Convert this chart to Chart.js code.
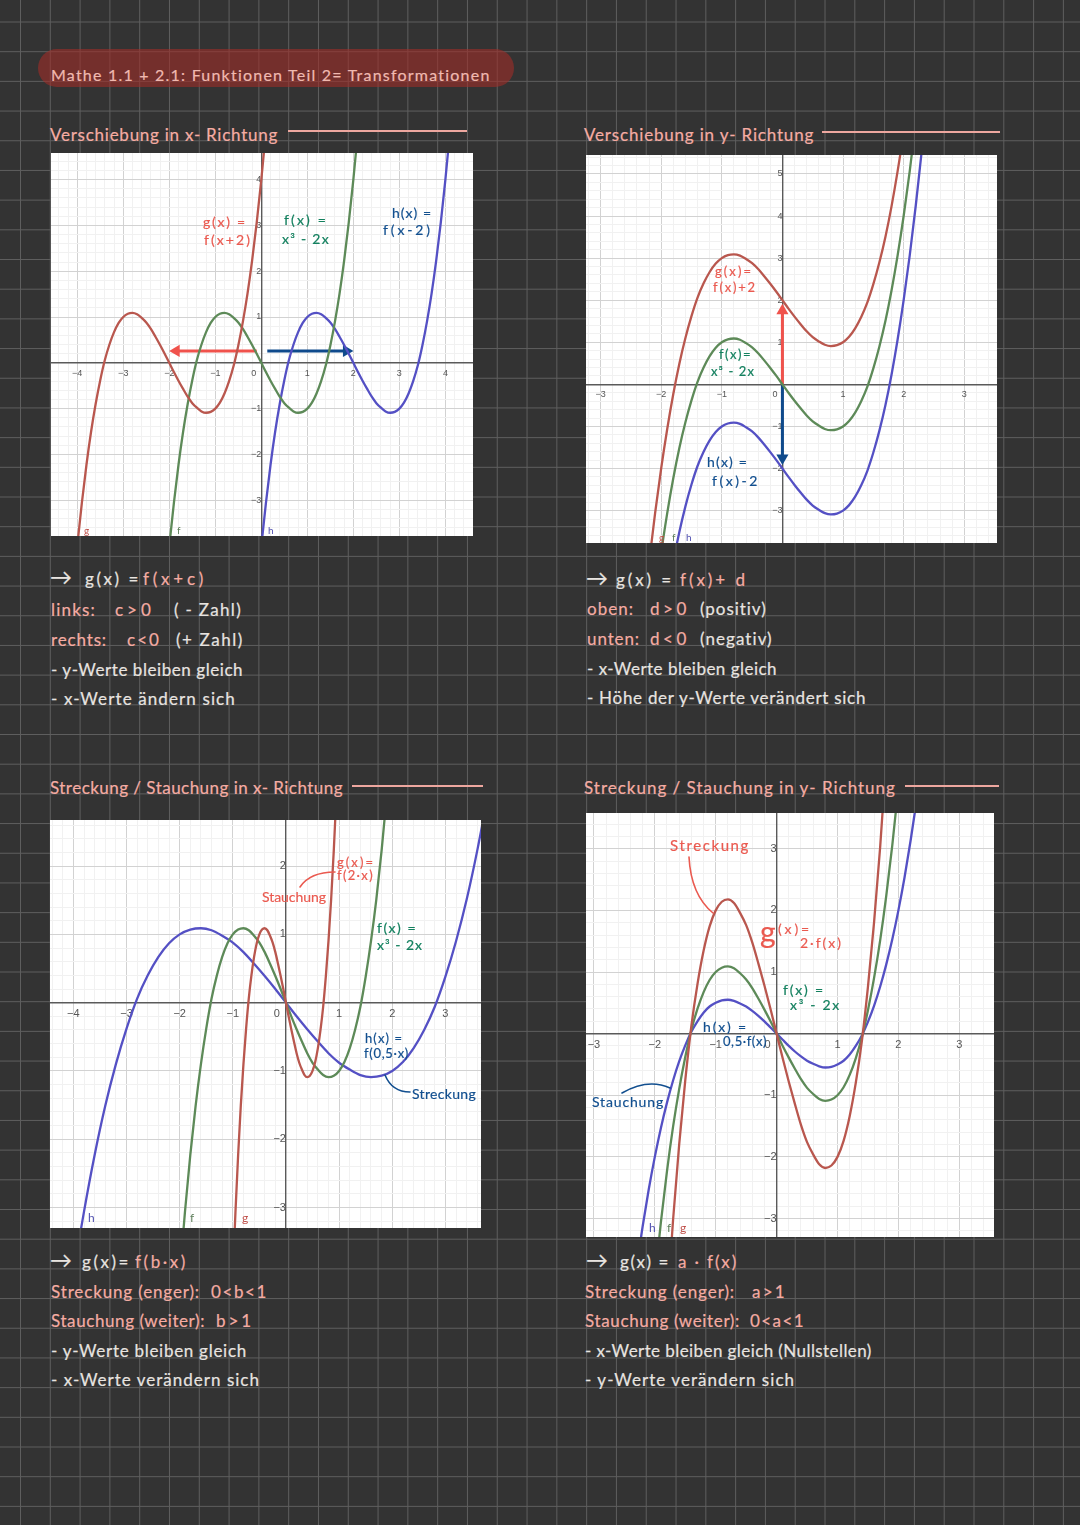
<!DOCTYPE html>
<html>
<head>
<meta charset="utf-8">
<title>Mathe 1.1 + 2.1: Funktionen Teil 2</title>
<script src="https://cdn.jsdelivr.net/npm/chart.js@4/dist/chart.umd.js"></script>
<style>
  html, body { margin: 0; padding: 0; }
  body {
    position: relative; width: 1080px; height: 1525px; overflow: hidden;
    background-color: #333;
    background-image:
      linear-gradient(to right, #5e5e5e 1.2px, transparent 1.2px),
      linear-gradient(to bottom, #5e5e5e 1.2px, transparent 1.2px);
    background-size: 29.8px 29.7px;
    background-position: 20px 21.5px;
    font-family: Lato, sans-serif;
  }
  .pill { position: absolute; left: 38px; top: 49px; width: 476px; height: 38px; border-radius: 19px; background: rgba(160,45,40,.6); }
  .rule { position: absolute; height: 2px; background: #eea79f; }
  .panel { position: absolute; background: #fff; }
  .panel canvas { display: block; filter: blur(0.35px); }
  .t { position: absolute; white-space: pre; line-height: 1; transform: translateY(-50%); font-size: 17px; color: #e8e4e0; -webkit-text-stroke: 0.2px currentColor; }
  .pk { color: #f5aca3; }
  .r { color: #ea5a50; font-size: 14px; }
  .g { color: #14805f; font-size: 14px; }
  .b { color: #124f8f; font-size: 14px; }
  .lab { font-size: 10px; -webkit-text-stroke: 0; }
  svg.over { position: absolute; left: 0; top: 0; pointer-events: none; }
</style>
</head>
<body>
<div class="pill"></div>
<span class="t" style="left:51px;top:75px;color:#f0b9b0;font-size:16px" data-w="440">Mathe 1.1 + 2.1: Funktionen Teil 2= Transformationen</span>

<span class="t pk" style="left:50px;top:134px" data-w="228">Verschiebung in x- Richtung</span>
<div class="rule" style="left:288px;top:130px;width:179px"></div>
<span class="t pk" style="left:584px;top:134px" data-w="230">Verschiebung in y- Richtung</span>
<div class="rule" style="left:822px;top:131px;width:178px"></div>
<span class="t pk" style="left:50px;top:787px" data-w="293">Streckung / Stauchung in x- Richtung</span>
<div class="rule" style="left:352px;top:785px;width:131px"></div>
<span class="t pk" style="left:584px;top:787px" data-w="312">Streckung / Stauchung in y- Richtung</span>
<div class="rule" style="left:905px;top:785px;width:94px"></div>

<div class="panel" style="left:51px;top:153px"><canvas id="chartShiftX" width="422" height="383"></canvas></div>
<div class="panel" style="left:586px;top:155px"><canvas id="chartShiftY" width="411" height="388"></canvas></div>
<div class="panel" style="left:50px;top:820px"><canvas id="chartScaleX" width="431" height="408"></canvas></div>
<div class="panel" style="left:586px;top:813px"><canvas id="chartScaleY" width="408" height="424"></canvas></div>

<!-- notes under chart 1 -->
<span class="t" style="left:50px;top:577px;font-size:22px" data-w="27">→</span>
<span class="t" style="left:85px;top:578px" data-w="56">g(x) =</span>
<span class="t pk" style="left:143px;top:578px" data-w="64">f(x+c)</span>
<span class="t pk" style="left:51px;top:609px" data-w="45">links:</span>
<span class="t pk" style="left:115px;top:609px" data-w="40">c&gt;0</span>
<span class="t" style="left:174px;top:609px" data-w="68">( - Zahl)</span>
<span class="t pk" style="left:51px;top:639px" data-w="56">rechts:</span>
<span class="t pk" style="left:127px;top:639px" data-w="34">c&lt;0</span>
<span class="t" style="left:176px;top:639px" data-w="68">(+ Zahl)</span>
<span class="t" style="left:51px;top:669px" data-w="192">- y-Werte bleiben gleich</span>
<span class="t" style="left:51px;top:698px" data-w="185">- x-Werte ändern sich</span>

<!-- notes under chart 2 -->
<span class="t" style="left:586px;top:578px;font-size:22px" data-w="27">→</span>
<span class="t" style="left:616px;top:579px" data-w="58">g(x) =</span>
<span class="t pk" style="left:680px;top:579px" data-w="68">f(x)+ d</span>
<span class="t pk" style="left:587px;top:608px" data-w="47">oben:</span>
<span class="t pk" style="left:650px;top:608px" data-w="40">d&gt;0</span>
<span class="t" style="left:700px;top:608px" data-w="67">(positiv)</span>
<span class="t pk" style="left:587px;top:638px" data-w="53">unten:</span>
<span class="t pk" style="left:650px;top:638px" data-w="40">d&lt;0</span>
<span class="t" style="left:700px;top:638px" data-w="73">(negativ)</span>
<span class="t" style="left:587px;top:668px" data-w="190">- x-Werte bleiben gleich</span>
<span class="t" style="left:587px;top:697px" data-w="279">- Höhe der y-Werte verändert sich</span>

<!-- notes under chart 3 -->
<span class="t" style="left:50px;top:1260px;font-size:22px" data-w="26">→</span>
<span class="t" style="left:82px;top:1261px" data-w="49">g(x)=</span>
<span class="t pk" style="left:135px;top:1261px" data-w="53">f(b·x)</span>
<span class="t pk" style="left:51px;top:1291px" data-w="149">Streckung (enger):</span>
<span class="t pk" style="left:211px;top:1291px" data-w="57">0&lt;b&lt;1</span>
<span class="t pk" style="left:51px;top:1320px" data-w="154">Stauchung (weiter):</span>
<span class="t pk" style="left:216px;top:1320px" data-w="38">b&gt;1</span>
<span class="t" style="left:51px;top:1350px" data-w="196">- y-Werte bleiben gleich</span>
<span class="t" style="left:51px;top:1379px" data-w="209">- x-Werte verändern sich</span>

<!-- notes under chart 4 -->
<span class="t" style="left:586px;top:1260px;font-size:22px" data-w="27">→</span>
<span class="t" style="left:620px;top:1261px" data-w="50">g(x) =</span>
<span class="t pk" style="left:678px;top:1261px" data-w="60">a · f(x)</span>
<span class="t pk" style="left:585px;top:1291px" data-w="150">Streckung (enger):</span>
<span class="t pk" style="left:752px;top:1291px" data-w="35">a&gt;1</span>
<span class="t pk" style="left:585px;top:1320px" data-w="155">Stauchung (weiter):</span>
<span class="t pk" style="left:750px;top:1320px" data-w="55">0&lt;a&lt;1</span>
<span class="t" style="left:585px;top:1350px" data-w="287">- x-Werte bleiben gleich (Nullstellen)</span>
<span class="t" style="left:585px;top:1379px" data-w="210">- y-Werte verändern sich</span>

<!-- handwritten labels on chart 1 -->
<span class="t r" style="left:203px;top:222px" data-w="44">g(x) =</span>
<span class="t r" style="left:204px;top:240px" data-w="48">f(x+2)</span>
<span class="t g" style="left:284px;top:220px" data-w="44">f(x) =</span>
<span class="t g" style="left:282px;top:239px" data-w="48">x³ - 2x</span>
<span class="t b" style="left:392px;top:213px" data-w="40">h(x) =</span>
<span class="t b" style="left:383px;top:230px" data-w="50">f(x-2)</span>
<span class="t lab" style="left:84px;top:530px;color:#c0504a">g</span>
<span class="t lab" style="left:177px;top:530px;color:#5f7f5c">f</span>
<span class="t lab" style="left:268px;top:530px;color:#5050b0">h</span>

<!-- handwritten labels on chart 2 -->
<span class="t r" style="left:715px;top:271px;font-size:13px" data-w="38">g(x)=</span>
<span class="t r" style="left:713px;top:287px;font-size:13px" data-w="44">f(x)+2</span>
<span class="t g" style="left:719px;top:354px;font-size:13px" data-w="33">f(x)=</span>
<span class="t g" style="left:711px;top:371px;font-size:13px" data-w="44">x³ - 2x</span>
<span class="t b" style="left:707px;top:462px" data-w="41">h(x) =</span>
<span class="t b" style="left:712px;top:481px" data-w="48">f(x)-2</span>
<span class="t lab" style="left:659px;top:537px;color:#c0504a">g</span>
<span class="t lab" style="left:672px;top:537px;color:#5f7f5c">f</span>
<span class="t lab" style="left:686px;top:537px;color:#5050b0">h</span>

<!-- handwritten labels on chart 3 -->
<span class="t r" style="left:337px;top:862px;font-size:13px" data-w="38">g(x)=</span>
<span class="t r" style="left:337px;top:875px;font-size:13px" data-w="37">f(2·x)</span>
<span class="t r" style="left:262px;top:897px" data-w="64">Stauchung</span>
<span class="t g" style="left:377px;top:928px" data-w="40">f(x) =</span>
<span class="t g" style="left:377px;top:945px" data-w="46">x³ - 2x</span>
<span class="t b" style="left:365px;top:1038px;font-size:13px" data-w="38">h(x) =</span>
<span class="t b" style="left:364px;top:1053px;font-size:13px" data-w="45">f(0,5·x)</span>
<span class="t b" style="left:412px;top:1094px" data-w="64">Streckung</span>
<span class="t lab" style="left:88px;top:1218px;font-size:12px;color:#5050b0">h</span>
<span class="t lab" style="left:190px;top:1218px;font-size:12px;color:#5f7f5c">f</span>
<span class="t lab" style="left:242px;top:1218px;font-size:12px;color:#c0504a">g</span>

<!-- handwritten labels on chart 4 -->
<span class="t r" style="left:670px;top:845px;font-size:15px" data-w="80">Streckung</span>
<span class="t r" style="left:760px;top:931px;font-size:30px">g</span>
<span class="t r" style="left:778px;top:929px" data-w="34">(x)=</span>
<span class="t r" style="left:800px;top:943px" data-w="43">2·f(x)</span>
<span class="t g" style="left:783px;top:990px" data-w="42">f(x) =</span>
<span class="t g" style="left:790px;top:1005px" data-w="51">x³ - 2x</span>
<span class="t b" style="left:703px;top:1027px" data-w="45">h(x) =</span>
<span class="t b" style="left:723px;top:1041px;font-size:13px" data-w="44">0,5·f(x)</span>
<span class="t b" style="left:592px;top:1102px" data-w="72">Stauchung</span>
<span class="t lab" style="left:649px;top:1228px;font-size:12px;color:#5050b0">h</span>
<span class="t lab" style="left:667px;top:1228px;font-size:12px;color:#5f7f5c">f</span>
<span class="t lab" style="left:680px;top:1228px;font-size:12px;color:#c0504a">g</span>

<svg class="over" width="1080" height="1525" fill="none" stroke-width="1.6" stroke-linecap="round">
  <path d="M300 887 Q310 872 335 872" stroke="#ea5a50"/>
  <path d="M385 1075 Q392 1092 410 1092" stroke="#124f8f"/>
  <path d="M689 857 Q691 895 713 913" stroke="#ea5a50"/>
  <path d="M622 1093 Q648 1078 670 1088" stroke="#124f8f"/>
</svg>

<script>
// chart 1 - shift along x (same heights, three x lists)
const shiftHeights = [-5.06,-4,-3.06,-2.23,-1.51,-0.9,-0.38,0.06,0.4,0.67,0.87,1,1.07,1.09,1.06,0.98,0.88,0.74,0.57,0.39,0.2,0,-0.2,-0.39,-0.57,-0.74,-0.88,-0.98,-1.06,-1.09,-1.07,-1,-0.87,-0.67,-0.4,-0.06,0.38,0.9,1.51,2.23,3.06,4,5.06];
const shiftFx = [-2.1,-2,-1.9,-1.8,-1.7,-1.6,-1.5,-1.4,-1.3,-1.2,-1.1,-1,-0.9,-0.8,-0.7,-0.6,-0.5,-0.4,-0.3,-0.2,-0.1,0,0.1,0.2,0.3,0.4,0.5,0.6,0.7,0.8,0.9,1,1.1,1.2,1.3,1.4,1.5,1.6,1.7,1.8,1.9,2,2.1];
const shiftGx = [-4.1,-4,-3.9,-3.8,-3.7,-3.6,-3.5,-3.4,-3.3,-3.2,-3.1,-3,-2.9,-2.8,-2.7,-2.6,-2.5,-2.4,-2.3,-2.2,-2.1,-2,-1.9,-1.8,-1.7,-1.6,-1.5,-1.4,-1.3,-1.2,-1.1,-1,-0.9,-0.8,-0.7,-0.6,-0.5,-0.4,-0.3,-0.2,-0.1,0,0.1];
const shiftHx = [-0.1,0,0.1,0.2,0.3,0.4,0.5,0.6,0.7,0.8,0.9,1,1.1,1.2,1.3,1.4,1.5,1.6,1.7,1.8,1.9,2,2.1,2.2,2.3,2.4,2.5,2.6,2.7,2.8,2.9,3,3.1,3.2,3.3,3.4,3.5,3.6,3.7,3.8,3.9,4,4.1];
const arrowLeftX = [-0.1,-1.85];
const arrowRightX = [0.13,1.85];
const arrowShiftY = [0.26,0.26];
const shiftXTicks = [-4,-3,-2,-1,0,1,2,3,4];
const shiftYTicks = [-3,-2,-1,1,2,3,4];

// chart 2 - shift along y
const liftX = [-2.2,-2.1,-2,-1.9,-1.8,-1.7,-1.6,-1.5,-1.4,-1.3,-1.2,-1.1,-1,-0.9,-0.8,-0.7,-0.6,-0.5,-0.4,-0.3,-0.2,-0.1,0,0.1,0.2,0.3,0.4,0.5,0.6,0.7,0.8,0.9,1,1.1,1.2,1.3,1.4,1.5,1.6,1.7,1.8,1.9,2,2.1,2.2,2.3];
const liftF = [-6.25,-5.06,-4,-3.06,-2.23,-1.51,-0.9,-0.38,0.06,0.4,0.67,0.87,1,1.07,1.09,1.06,0.98,0.88,0.74,0.57,0.39,0.2,0,-0.2,-0.39,-0.57,-0.74,-0.88,-0.98,-1.06,-1.09,-1.07,-1,-0.87,-0.67,-0.4,-0.06,0.38,0.9,1.51,2.23,3.06,4,5.06,6.25,7.57];
const liftG = [-4.25,-3.06,-2,-1.06,-0.23,0.49,1.1,1.62,2.06,2.4,2.67,2.87,3,3.07,3.09,3.06,2.98,2.88,2.74,2.57,2.39,2.2,2,1.8,1.61,1.43,1.26,1.12,1.02,0.94,0.91,0.93,1,1.13,1.33,1.6,1.94,2.38,2.9,3.51,4.23,5.06,6,7.06,8.25,9.57];
const liftH = [-8.25,-7.06,-6,-5.06,-4.23,-3.51,-2.9,-2.38,-1.94,-1.6,-1.33,-1.13,-1,-0.93,-0.91,-0.94,-1.02,-1.12,-1.26,-1.43,-1.61,-1.8,-2,-2.2,-2.39,-2.57,-2.74,-2.88,-2.98,-3.06,-3.09,-3.07,-3,-2.87,-2.67,-2.4,-2.06,-1.62,-1.1,-0.49,0.23,1.06,2,3.06,4.25,5.57];
const arrowLiftX = [0,0];
const arrowUpY = [0,1.75];
const arrowDownY = [0,-1.75];
const liftXTicks = [-3,-2,-1,0,1,2,3];
const liftYTicks = [-3,-2,-1,1,2,3,4,5];

// chart 3 - stretch along x
const stretchFx = shiftFx;
const stretchGx = [-1.05,-1,-0.95,-0.9,-0.85,-0.8,-0.75,-0.7,-0.65,-0.6,-0.55,-0.5,-0.45,-0.4,-0.35,-0.3,-0.25,-0.2,-0.15,-0.1,-0.05,0,0.05,0.1,0.15,0.2,0.25,0.3,0.35,0.4,0.45,0.5,0.55,0.6,0.65,0.7,0.75,0.8,0.85,0.9,0.95,1,1.05];
const stretchHx = [-4.2,-4,-3.8,-3.6,-3.4,-3.2,-3,-2.8,-2.6,-2.4,-2.2,-2,-1.8,-1.6,-1.4,-1.2,-1,-0.8,-0.6,-0.4,-0.2,0,0.2,0.4,0.6,0.8,1,1.2,1.4,1.6,1.8,2,2.2,2.4,2.6,2.8,3,3.2,3.4,3.6,3.8,4,4.2];
const stretchXTicks = [-4,-3,-2,-1,0,1,2,3];
const stretchYTicks = [-3,-2,-1,1,2];

// chart 4 - stretch along y
const scaleX = [-2.3,-2.2,-2.1,-2,-1.9,-1.8,-1.7,-1.6,-1.5,-1.4,-1.3,-1.2,-1.1,-1,-0.9,-0.8,-0.7,-0.6,-0.5,-0.4,-0.3,-0.2,-0.1,0,0.1,0.2,0.3,0.4,0.5,0.6,0.7,0.8,0.9,1,1.1,1.2,1.3,1.4,1.5,1.6,1.7,1.8,1.9,2,2.1,2.2,2.3];
const scaleF = [-7.57,-6.25,-5.06,-4,-3.06,-2.23,-1.51,-0.9,-0.38,0.06,0.4,0.67,0.87,1,1.07,1.09,1.06,0.98,0.88,0.74,0.57,0.39,0.2,0,-0.2,-0.39,-0.57,-0.74,-0.88,-0.98,-1.06,-1.09,-1.07,-1,-0.87,-0.67,-0.4,-0.06,0.38,0.9,1.51,2.23,3.06,4,5.06,6.25,7.57];
const scaleG = [-15.14,-12.5,-10.12,-8,-6.12,-4.46,-3.02,-1.8,-0.76,0.12,0.8,1.34,1.74,2,2.14,2.18,2.12,1.96,1.76,1.48,1.14,0.78,0.4,0,-0.4,-0.78,-1.14,-1.48,-1.76,-1.96,-2.12,-2.18,-2.14,-2,-1.74,-1.34,-0.8,-0.12,0.76,1.8,3.02,4.46,6.12,8,10.12,12.5,15.14];
const scaleH = [-3.79,-3.13,-2.53,-2,-1.53,-1.12,-0.76,-0.45,-0.19,0.03,0.2,0.34,0.44,0.5,0.54,0.55,0.53,0.49,0.44,0.37,0.29,0.2,0.1,0,-0.1,-0.2,-0.29,-0.37,-0.44,-0.49,-0.53,-0.55,-0.54,-0.5,-0.44,-0.34,-0.2,-0.03,0.19,0.45,0.76,1.12,1.53,2,2.53,3.13,3.79];
const scaleXTicks = [-3,-2,-1,0,1,2,3];
const scaleYTicks = [-3,-2,-1,1,2,3];

const RED = '#b9574e', GREEN = '#5d8a58', BLUE = '#5450c4';

function pairs(xs, ys) {
  return xs.map((x, i) => ({ x: x, y: ys[i] }));
}

function curve(xs, ys, color) {
  return {
    data: pairs(xs, ys), borderColor: color, borderWidth: 2.3,
    pointRadius: 0, cubicInterpolationMode: 'monotone'
  };
}

function arrow(xs, ys, color, rotation) {
  return {
    data: pairs(xs, ys), borderColor: color, backgroundColor: color, borderWidth: 3,
    pointStyle: 'triangle', pointRadius: [0, 7], pointRotation: [0, rotation], pointBorderWidth: 0
  };
}

function axis(range, labels, fontSize, position) {
  return {
    type: 'linear', min: range[0], max: range[1], position: position,
    // the axes cross inside the plot, the plot has to fill the whole canvas
    afterFit: scale => {
      scale.paddingLeft = scale.paddingRight = scale.paddingTop = scale.paddingBottom = 0;
    },
    grid: {
      drawTicks: false,
      lineWidth: 1,
      color: ctx => Math.abs(ctx.tick.value - Math.round(ctx.tick.value)) < 0.01 ? '#d2d2d2' : '#f1f1f1'
    },
    border: { display: true, color: '#5a5a5a', width: 1.4 },
    ticks: {
      stepSize: 0.2, autoSkip: false, includeBounds: false, maxRotation: 0,
      padding: 5, color: '#555',
      font: { family: '"Liberation Sans", sans-serif', size: fontSize },
      callback: value => {
        const v = Math.round(value * 100) / 100;
        if (!labels.includes(v)) return '';
        if (v === 0) return '0      ';
        return String(v).replace('-', '\u2212');
      }
    }
  };
}

function makeChart(id, xRange, yRange, xLabels, yLabels, fontSize, datasets) {
  return new Chart(document.getElementById(id), {
    type: 'line',
    data: { datasets: datasets },
    options: {
      responsive: false, animation: false,
      layout: { padding: 0, autoPadding: false },
      plugins: { legend: { display: false }, tooltip: { enabled: false } },
      scales: {
        x: axis(xRange, xLabels, fontSize, { y: 0 }),
        y: axis(yRange, yLabels, fontSize, { x: 0 })
      }
    }
  });
}

makeChart('chartShiftX', [-4.57, 4.6], [-3.78, 4.58], shiftXTicks, shiftYTicks, 9, [
  curve(shiftGx, shiftHeights, RED),
  curve(shiftFx, shiftHeights, GREEN),
  curve(shiftHx, shiftHeights, BLUE),
  arrow(arrowLeftX, arrowShiftY, '#f0524c', -90),
  arrow(arrowRightX, arrowShiftY, '#0f4a8c', 90)
]);

makeChart('chartShiftY', [-3.24, 3.54], [-3.77, 5.45], liftXTicks, liftYTicks, 9, [
  curve(liftX, liftG, RED),
  curve(liftX, liftF, GREEN),
  curve(liftX, liftH, BLUE),
  arrow(arrowLiftX, arrowUpY, '#f0524c', 0),
  arrow(arrowLiftX, arrowDownY, '#0f4a8c', 180)
]);

makeChart('chartScaleX', [-4.44, 3.67], [-3.3, 2.675], stretchXTicks, stretchYTicks, 11, [
  curve(stretchGx, shiftHeights, RED),
  curve(stretchFx, shiftHeights, GREEN),
  curve(stretchHx, shiftHeights, BLUE)
]);

makeChart('chartScaleY', [-3.13, 3.57], [-3.3, 3.58], scaleXTicks, scaleYTicks, 11, [
  curve(scaleX, scaleG, RED),
  curve(scaleX, scaleF, GREEN),
  curve(scaleX, scaleH, BLUE)
]);

// stretch the text so it takes the same width as the handwriting
document.querySelectorAll('.t[data-w]').forEach(el => {
  const target = Number(el.dataset.w);
  const natural = el.getBoundingClientRect().width;
  const gap = (target - natural) / Math.max(el.textContent.length, 1);
  el.style.letterSpacing = Math.max(-1.5, Math.min(gap, 4)).toFixed(2) + 'px';
});
</script>
</body>
</html>
